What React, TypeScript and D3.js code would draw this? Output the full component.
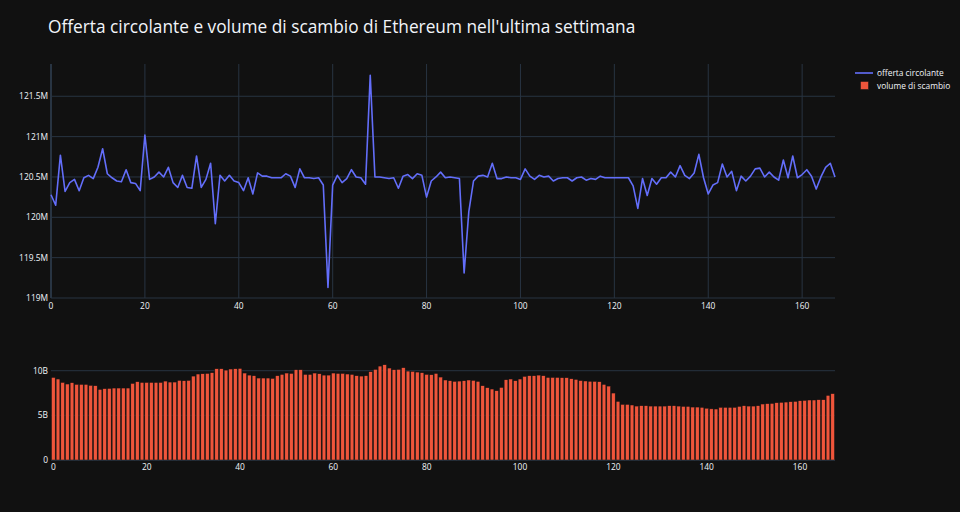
import * as d3 from 'd3';

// ore dell'ultima settimana (0..167)
const supplyM = [
  120.28, 120.15, 120.77, 120.32, 120.43, 120.47, 120.33, 120.49, 120.52, 120.48,
  120.62, 120.85, 120.54, 120.49, 120.45, 120.44, 120.59, 120.43, 120.42, 120.33,
  121.02, 120.47, 120.50, 120.56, 120.50, 120.62, 120.43, 120.37, 120.52, 120.37,
  120.36, 120.76, 120.37, 120.47, 120.67, 119.92, 120.52, 120.45, 120.52, 120.45,
  120.43, 120.33, 120.49, 120.29, 120.55, 120.51, 120.51, 120.49, 120.49, 120.49,
  120.54, 120.51, 120.37, 120.60, 120.49, 120.49, 120.48, 120.49, 120.40, 119.13,
  120.40, 120.52, 120.43, 120.48, 120.59, 120.50, 120.49, 120.41, 121.76, 120.50,
  120.50, 120.49, 120.48, 120.49, 120.36, 120.51, 120.53, 120.48, 120.54, 120.52,
  120.25, 120.45, 120.50, 120.56, 120.49, 120.50, 120.49, 120.48, 119.31, 120.07,
  120.45, 120.51, 120.52, 120.50, 120.67, 120.48, 120.48, 120.50, 120.49, 120.49,
  120.47, 120.60, 120.51, 120.47, 120.52, 120.50, 120.51, 120.45, 120.48, 120.49,
  120.49, 120.45, 120.49, 120.50, 120.46, 120.48, 120.47, 120.51, 120.49, 120.49,
  120.49, 120.49, 120.49, 120.49, 120.39, 120.11, 120.48, 120.27, 120.48, 120.41,
  120.49, 120.49, 120.56, 120.50, 120.64, 120.52, 120.48, 120.55, 120.78, 120.49,
  120.29, 120.40, 120.43, 120.66, 120.50, 120.57, 120.33, 120.51, 120.45, 120.51,
  120.60, 120.61, 120.50, 120.56, 120.50, 120.46, 120.71, 120.49, 120.76, 120.49,
  120.53, 120.59, 120.51, 120.35, 120.50, 120.62, 120.67, 120.50,
];

const volumeB = [
  9.25, 9.07, 8.69, 8.51, 8.66, 8.47, 8.47, 8.47, 8.36, 8.32,
  7.91, 7.99, 8.02, 8.06, 8.06, 8.06, 8.06, 8.58, 8.77, 8.69,
  8.69, 8.69, 8.69, 8.69, 8.84, 8.73, 8.73, 8.92, 8.88, 8.92,
  9.40, 9.63, 9.66, 9.70, 9.78, 10.22, 10.22, 10.07, 10.19, 10.22,
  10.26, 9.74, 9.51, 9.44, 9.18, 9.18, 9.18, 9.14, 9.44, 9.59,
  9.74, 9.70, 10.11, 10.11, 9.59, 9.59, 9.74, 9.66, 9.51, 9.51,
  9.74, 9.70, 9.70, 9.63, 9.59, 9.44, 9.40, 9.44, 9.89, 10.15,
  10.52, 10.67, 10.30, 10.11, 10.15, 10.34, 9.96, 9.93, 9.85, 9.78,
  9.59, 9.55, 9.70, 9.29, 8.96, 8.88, 8.81, 8.84, 8.88, 8.96,
  8.92, 8.81, 8.32, 8.10, 7.95, 7.76, 8.13, 8.99, 9.07, 8.88,
  9.07, 9.37, 9.44, 9.44, 9.51, 9.44, 9.25, 9.25, 9.25, 9.22,
  9.22, 9.10, 9.03, 8.90, 8.85, 8.82, 8.81, 8.77, 8.47, 8.28,
  7.50, 6.57, 6.23, 6.23, 6.16, 6.04, 6.08, 6.08, 6.04, 6.04,
  6.04, 6.04, 6.08, 6.08, 6.04, 6.01, 6.01, 5.93, 5.93, 5.90,
  5.80, 5.73, 5.71, 5.90, 5.90, 5.90, 5.90, 6.01, 6.08, 6.04,
  6.04, 6.08, 6.27, 6.31, 6.34, 6.42, 6.46, 6.49, 6.53, 6.57,
  6.64, 6.68, 6.72, 6.72, 6.75, 6.75, 7.24, 7.43,
];

const xTicks = [0, 20, 40, 60, 80, 100, 120, 140, 160];
const supplyTicks = [119, 119.5, 120, 120.5, 121, 121.5];
const supplyTickLabels = ['119M', '119.5M', '120M', '120.5M', '121M', '121.5M'];
const volumeTicks = [0, 5, 10];
const volumeTickLabels = ['0', '5B', '10B'];

const title = "Offerta circolante e volume di scambio di Ethereum nell'ultima settimana";
const seriesNames = ['offerta circolante', 'volume di scambio'];

const BG = '#111111';
const GRID = '#283442';
const TEXT = '#f2f5fa';
const LINE = '#636efa';
const BAR = '#ef553b';
const FONT = '"Open Sans", verdana, arial, sans-serif';
const TICK_SIZE = 8.4;

export default function App() {
  const W = 960;
  const H = 512;
  const left = 51;
  const right = 835;

  const hours = supplyM.map((_, i) => i);

  // pannello superiore
  const x1 = d3.scaleLinear().domain([0, 167]).range([left, right]);
  const y1 = d3.scaleLinear().domain([119, 121.9]).range([298, 64]);
  const line = d3.line<number>()
    .x((_, i) => x1(hours[i]))
    .y(d => y1(d));

  // pannello inferiore
  const x2 = d3.scaleLinear().domain([-0.5, 167.5]).range([left, right]);
  const y2 = d3.scaleLinear().domain([0, 11.2]).range([460, 360]);
  const step = x2(1) - x2(0);
  const bw = step * 0.8;

  return (
    <div style={{ position: 'absolute', left: 0, top: 0 }}>
      <svg width={W} height={H} style={{ display: 'block', background: BG }} fontFamily={FONT}>
        <rect width={W} height={H} fill={BG} />
        <text x={48} y={33} fontSize={17.3} fill={TEXT}>{title}</text>

        {/* griglia superiore */}
        {supplyTicks.map(t => (
          <line key={'gy' + t} x1={left} x2={right} y1={y1(t)} y2={y1(t)} stroke={GRID} strokeWidth={1} />
        ))}
        {xTicks.map(t => (
          <line key={'gx' + t} x1={x1(t)} x2={x1(t)} y1={64} y2={298}
            stroke={GRID} strokeWidth={t === 0 ? 2 : 1} />
        ))}
        <path d={line(supplyM) ?? ''} fill="none" stroke={LINE} strokeWidth={1.6} strokeLinejoin="round" />

        {supplyTicks.map((t, i) => (
          <text key={'ly' + t} x={48} y={y1(t)} dy="0.35em" textAnchor="end" fontSize={TICK_SIZE} fill={TEXT}>
            {supplyTickLabels[i]}
          </text>
        ))}
        {xTicks.map(t => (
          <text key={'lx' + t} x={x1(t)} y={309} textAnchor="middle" fontSize={TICK_SIZE} fill={TEXT}>{t}</text>
        ))}

        {/* pannello inferiore */}
        {volumeTicks.map(t => (
          <line key={'vy' + t} x1={left} x2={right} y1={y2(t)} y2={y2(t)} stroke={GRID}
            strokeWidth={t === 0 ? 2 : 1} />
        ))}
        {volumeB.map((v, i) => (
          <rect key={'b' + i} x={x2(i) - bw / 2} y={y2(v)} width={bw} height={y2(0) - y2(v)}
            fill={BAR} stroke={BG} strokeWidth={0.5} />
        ))}
        {volumeTicks.map((t, i) => (
          <text key={'lv' + t} x={48} y={y2(t)} dy="0.35em" textAnchor="end" fontSize={TICK_SIZE} fill={TEXT}>
            {volumeTickLabels[i]}
          </text>
        ))}
        {xTicks.map(t => (
          <text key={'lb' + t} x={x2(t)} y={470} textAnchor="middle" fontSize={TICK_SIZE} fill={TEXT}>{t}</text>
        ))}

        {/* legenda */}
        <line x1={855} x2={873} y1={73} y2={73} stroke={LINE} strokeWidth={1.6} />
        <text x={877} y={73} dy="0.35em" fontSize={TICK_SIZE} fill={TEXT}>{seriesNames[0]}</text>
        <rect x={860.5} y={81.5} width={8} height={8} fill={BAR} stroke={BG} strokeWidth={0.5} />
        <text x={877} y={86} dy="0.35em" fontSize={TICK_SIZE} fill={TEXT}>{seriesNames[1]}</text>
      </svg>
    </div>
  );
}
